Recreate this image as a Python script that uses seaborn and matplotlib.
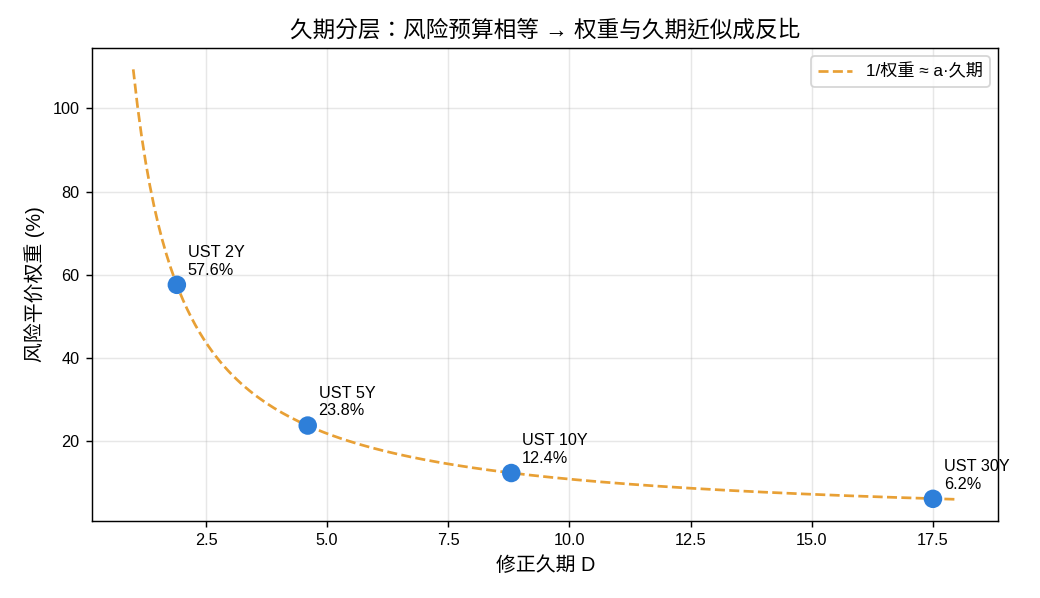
import numpy as np
import pandas as pd
import matplotlib
matplotlib.use('Agg')
import matplotlib.pyplot as plt
import seaborn as sns

plt.rcParams['font.family'] = ['Liberation Sans', 'Noto Sans CJK SC', 'DejaVu Sans']
plt.rcParams['axes.unicode_minus'] = False

bonds = ['UST 2Y', 'UST 5Y', 'UST 10Y', 'UST 30Y']
durations = [1.9, 4.6, 8.8, 17.5]
weights = [57.6, 23.8, 12.4, 6.2]

# fitted curve: weight = a / D, a from inverse-duration normalisation
a = 100 / np.sum(1 / np.array(durations))
d_grid = np.linspace(1, 18, 200)
curve = pd.DataFrame({'D': d_grid, 'w': a / d_grid})
pts = pd.DataFrame({'D': durations, 'w': weights, 'bond': bonds})

fig, ax = plt.subplots(figsize=(8, 4.6), dpi=130)

sns.lineplot(data=curve, x='D', y='w', ax=ax, color='#e8a035', linestyle='--',
             linewidth=1.5, label='1/权重 ≈ a·久期', zorder=2)
sns.scatterplot(data=pts, x='D', y='w', ax=ax, color='#2e7fd9', s=105,
                edgecolor='none', zorder=3, legend=False)

for _, r in pts.iterrows():
    ax.annotate(f"{r['bond']}\n{r['w']:.1f}%", (r['D'], r['w']),
                xytext=(6, 4), textcoords='offset points', fontsize=9,
                va='bottom', ha='left')

ax.grid(True, alpha=0.3)
ax.set_xlabel('修正久期 D', fontsize=11)
ax.set_ylabel('风险平价权重 (%)', fontsize=11)
ax.set_title('久期分层：风险预算相等 → 权重与久期近似成反比', fontsize=12.5,
             family=['Liberation Sans', 'Noto Sans CJK TC', 'DejaVu Sans'])
ax.tick_params(labelsize=9)
ax.legend(loc='upper right', fontsize=9.5)

plt.subplots_adjust(left=0.0885, right=0.96, top=0.92, bottom=0.129)
plt.savefig('out.png', dpi=130)
